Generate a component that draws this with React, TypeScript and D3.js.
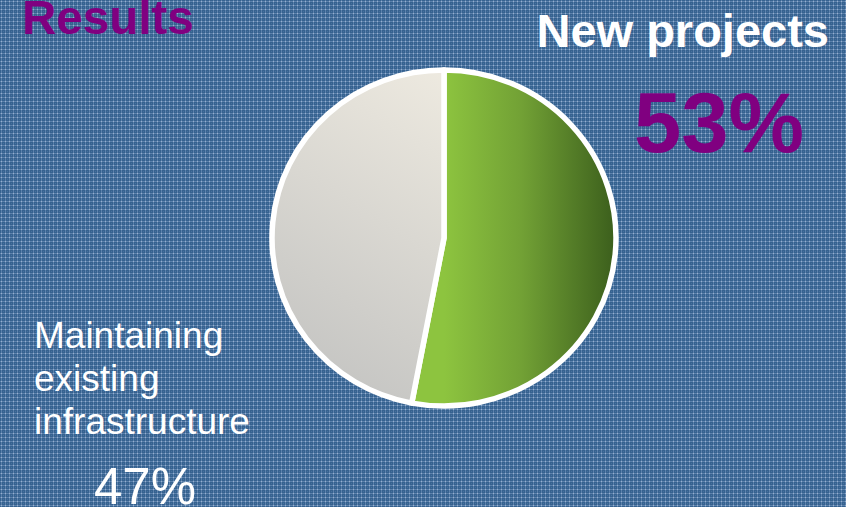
import React from "react";
import * as d3 from "d3";

const categories = ["New projects", "Maintaining existing infrastructure"];
const values = [53, 47];
const labels = ["53%", "47%"];
const title = "Results";

const W = 846;
const H = 507;

export default function App() {
  const cx = 444;
  const cy = 238;
  const r = 172;
  const sy = 168 / 172;
  const pie = d3
    .pie<number>()
    .sort(null)
    .startAngle(0)
    .endAngle(2 * Math.PI)(values);
  const arc = d3.arc<d3.PieArcDatum<number>>().innerRadius(0).outerRadius(r);
  const fills = ["url(#gGreen)", "url(#gGray)"];

  return (
    <svg
      width={W}
      height={H}
      style={{ position: "absolute", left: 0, top: 0, display: "block" }}
      fontFamily="'Liberation Sans', Arial, sans-serif"
    >
      <defs>
        <pattern id="bgp" width="4" height="4" patternUnits="userSpaceOnUse">
          <rect width="4" height="4" fill="#36628f" />
          <rect x="0" y="1" width="4" height="1" fill="#5c82ad" />
          <rect x="1" y="0" width="1" height="4" fill="#5c82ad" />
          <rect x="1" y="1" width="1" height="1" fill="#98b0cd" />
          <rect x="3" y="3" width="1" height="1" fill="#44709e" />
        </pattern>
        <linearGradient id="gGreen" gradientUnits="userSpaceOnUse" x1={0} y1={0} x2={r} y2={0}>
          <stop offset="0" stopColor="#8dc43f" />
          <stop offset="0.45" stopColor="#72a135" />
          <stop offset="1" stopColor="#3b5e1c" />
        </linearGradient>
        <linearGradient id="gGray" gradientUnits="userSpaceOnUse" x1={20} y1={-r} x2={-r} y2={r * 0.7}>
          <stop offset="0" stopColor="#efebe1" />
          <stop offset="1" stopColor="#c4c4c2" />
        </linearGradient>
      </defs>
      <rect width={W} height={H} fill="url(#bgp)" />
      <g transform={`translate(${cx},${cy}) scale(1,${sy})`}>
        {pie.map((d, i) => (
          <path
            key={categories[i]}
            d={arc(d) || ""}
            fill={fills[i]}
            stroke="#ffffff"
            strokeWidth={5.5}
            strokeLinejoin="round"
          />
        ))}
      </g>
      <text x={22} y={34} fontSize={47.5} fontWeight="bold" fill="#800080">
        {title}
      </text>
      <text x={829} y={47} fontSize={47} fontWeight="bold" fill="#ffffff" textAnchor="end">
        {categories[0]}
      </text>
      <text x={719} y={152} fontSize={85} fontWeight="bold" fill="#800080" textAnchor="middle">
        {labels[0]}
      </text>
      <text x={34} fontSize={37} fill="#ffffff">
        <tspan x={34} y={348}>Maintaining</tspan>
        <tspan x={34} y={391}>existing</tspan>
        <tspan x={34} y={434}>infrastructure</tspan>
      </text>
      <text x={145} y={504} fontSize={51} fill="#ffffff" textAnchor="middle">
        {labels[1]}
      </text>
    </svg>
  );
}
